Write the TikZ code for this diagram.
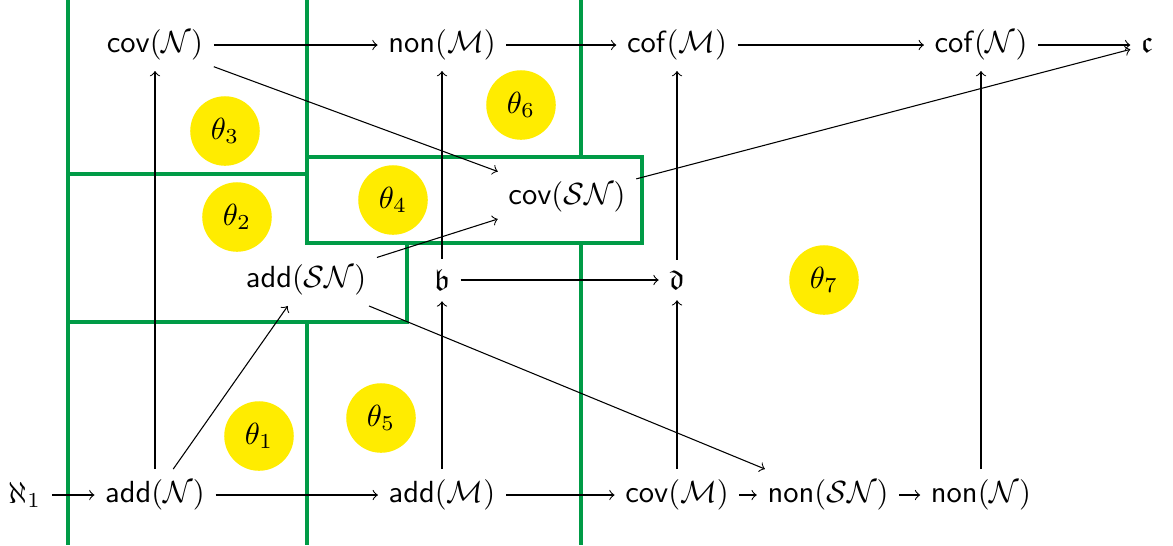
\documentclass[tikz,border=0pt]{standalone}
\usepackage{amsmath,amssymb}
\definecolor{wallgreen}{RGB}{0,155,70}
\definecolor{ballyellow}{RGB}{255,236,0}
\newcommand{\inv}[2]{\textsf{#1}$(\mathcal{#2})$}

\begin{document}
\begin{tikzpicture}[x=0.0115cm, y=-0.0115cm,
    every path/.style={line width=0.35pt},
    wall/.style={draw=wallgreen, line width=1.1pt},
    ball/.style={circle, fill=ballyellow, minimum size=0.8cm, inner sep=0pt}]
    \useasboundingbox (0,0) rectangle (1173,545);

    % 分区线
    \draw[wall] (68,0) -- (68,545);
    \draw[wall] (307,0) -- (307,157);
    \draw[wall] (581,0) -- (581,157);
    \draw[wall] (307,157) rectangle (642,243);
    \draw[wall] (68,174) -- (307,174);
    \draw[wall] (68,322) -- (407,322) -- (407,243);
    \draw[wall] (307,322) -- (307,545);
    \draw[wall] (581,243) -- (581,545);

    % 参数
    \node[ball] (t1) at (259,436) {$\theta_1$};
    \node[ball] (t2) at (237,217) {$\theta_2$};
    \node[ball] (t3) at (225,131) {$\theta_3$};
    \node[ball] (t4) at (393,200) {$\theta_4$};
    \node[ball] (t5) at (381,418) {$\theta_5$};
    \node[ball] (t6) at (521,105) {$\theta_6$};
    \node[ball] (t7) at (824,280) {$\theta_7$};

    % 列位置
    \def\colM{677}
    \def\colN{981}

    % 下行
    \node (aleph) at (25,495) {$\aleph_1$};
    \node (addN) at (155,495) {\inv{add}{N}};
    \node (addM) at (442,495) {\inv{add}{M}};
    \node (covM) at (\colM,495) {\inv{cov}{M}};
    \node (nonSN) at (828,495) {\inv{non}{SN}};
    \node (nonN) at (\colN,495) {\inv{non}{N}};

    % 中间
    \node (addSN) at (306,280) {\inv{add}{SN}};
    \node (fb) at (442,280) {$\mathfrak{b}$};
    \node (fd) at (\colM,280) {$\mathfrak{d}$};
    \node (covSN) at (567,197) {\inv{cov}{SN}};

    % 上行
    \node (covN) at (155,45) {\inv{cov}{N}};
    \node (nonM) at (442,45) {\inv{non}{M}};
    \node (cofM) at (\colM,45) {\inv{cof}{M}};
    \node (cofN) at (\colN,45) {\inv{cof}{N}};
    \node (fc) at (1147,45) {$\mathfrak{c}$};

    % 箭头
    \draw[->] (aleph) -- (addN);
    \draw[->] (addN) -- (addM);
    \draw[->] (addM) -- (covM);
    \draw[->] (covM) -- (nonSN);
    \draw[->] (nonSN) -- (nonN);
    \draw[->] (covN) -- (nonM);
    \draw[->] (nonM) -- (cofM);
    \draw[->] (cofM) -- (cofN);
    \draw[->] (cofN) -- (fc);
    \draw[->] (fb) -- (fd);
    \draw[->] (addN) -- (covN);
    \draw[->] (addM) -- (fb);
    \draw[->] (fb) -- (nonM);
    \draw[->] (covM) -- (fd);
    \draw[->] (fd) -- (cofM);
    \draw[->] (nonN) -- (cofN);
    \draw[->] (addN) -- (addSN);
    \draw[->] (addSN) -- (covSN);
    \draw[->] (covN) -- (covSN);
    \draw[->] (addSN) -- (nonSN);
    \draw[->] (covSN) -- (fc);
\end{tikzpicture}
\end{document}
